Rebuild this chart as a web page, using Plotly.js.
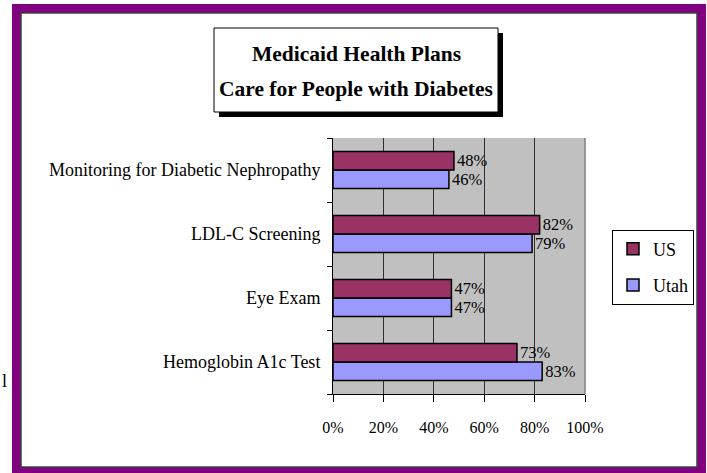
<!DOCTYPE html>
<html>
<head>
<meta charset="utf-8">
<script src="https://cdn.plot.ly/plotly-3.0.1.min.js"></script>
<style>html,body{margin:0;padding:0;background:#fff;}#chart{width:707px;height:473px;}</style>
</head>
<body>
<div id="chart"></div>
<script>
// ---- data ----
const categories = ["Hemoglobin A1c Test", "Eye Exam", "LDL-C Screening", "Monitoring for Diabetic Nephropathy"];
const usValues = [0.73, 0.47, 0.82, 0.48];
const utahValues = [0.83, 0.47, 0.79, 0.46];
const seriesNames = ["US", "Utah"];
const xTickVals = [0, 0.2, 0.4, 0.6, 0.8, 1.0];
const xTickText = ["0%", "20%", "40%", "60%", "80%", "100%"];
const titleLines = ["Medicaid Health Plans", "Care for People with Diabetes"];

// ---- layout geometry (pixels) ----
const W = 707, H = 473;
const M = {l: 333, r: 122, t: 138, b: 79};
const PW = W - M.l - M.r, PH = H - M.t - M.b;
const px = v => (v - M.l) / PW;
const py = v => (H - M.b - v) / PH;
const serif = "Liberation Serif, Times New Roman, serif";

function pct(v) { return Math.round(v * 100) + "%"; }

const traceUtah = {
  type: "bar", orientation: "h", name: seriesNames[1],
  y: categories, x: utahValues,
  text: utahValues.map(pct), textposition: "outside", cliponaxis: false, constraintext: "none",
  textfont: {family: serif, size: 16.5, color: "#000"},
  marker: {color: "#9999FF", line: {color: "#000", width: 1.5}},
  legendgroup: "b", legendrank: 2, hoverinfo: "skip"
};
const traceUS = {
  type: "bar", orientation: "h", name: seriesNames[0],
  y: categories, x: usValues,
  text: usValues.map(pct), textposition: "outside", cliponaxis: false, constraintext: "none",
  textfont: {family: serif, size: 16.5, color: "#000"},
  marker: {color: "#993366", line: {color: "#000", width: 1.5}},
  legendgroup: "a", legendrank: 1, hoverinfo: "skip"
};

const shapes = [
  // purple frame
  {type: "rect", xref: "paper", yref: "paper", layer: "below",
   x0: px(12), x1: px(706), y0: py(4), y1: py(474), fillcolor: "#800080", line: {width: 0}},
  // inner white panel
  {type: "rect", xref: "paper", yref: "paper", layer: "below",
   x0: px(21), x1: px(697), y0: py(13), y1: py(467), fillcolor: "#ffffff", line: {color: "#404040", width: 1.5}},
  // plot area background
  {type: "rect", xref: "paper", yref: "paper", layer: "below",
   x0: 0, x1: 1, y0: 0, y1: 1, fillcolor: "#C0C0C0", line: {width: 0}},
  // title shadow
  {type: "rect", xref: "paper", yref: "paper", layer: "above",
   x0: px(219), x1: px(503), y0: py(33), y1: py(117), fillcolor: "#000", line: {width: 0}},
  // title box
  {type: "rect", xref: "paper", yref: "paper", layer: "above",
   x0: px(214), x1: px(498), y0: py(28), y1: py(112), fillcolor: "#fff", line: {color: "#000", width: 1}},
  // right plot border
  {type: "line", xref: "paper", yref: "paper", layer: "above",
   x0: 1, x1: 1, y0: 0, y1: 1, line: {color: "#808080", width: 1.5}}
];

const annotations = [
  {xref: "paper", yref: "paper", x: px(356), y: py(54), text: "<b>" + titleLines[0] + "</b>",
   showarrow: false, xanchor: "center", yanchor: "middle", font: {family: serif, size: 21.5, color: "#000"}},
  {xref: "paper", yref: "paper", x: px(356), y: py(89), text: "<b>" + titleLines[1] + "</b>",
   showarrow: false, xanchor: "center", yanchor: "middle", font: {family: serif, size: 21.5, color: "#000"}},
  {xref: "paper", yref: "paper", x: px(4), y: py(381), text: "l",
   showarrow: false, xanchor: "center", yanchor: "middle", font: {family: serif, size: 18, color: "#000"}}
];

const layout = {
  width: W, height: H,
  margin: M,
  paper_bgcolor: "#fff",
  plot_bgcolor: "#C0C0C0",
  barmode: "group", bargap: 0.42, bargroupgap: 0,
  showlegend: true,
  legend: {x: px(653), xanchor: "center", y: py(267), yanchor: "middle",
           bgcolor: "#fff", bordercolor: "#000", borderwidth: 1,
           traceorder: "grouped", tracegroupgap: 10,
           font: {family: serif, size: 18, color: "#000"}},
  xaxis: {range: [0, 1], tickvals: xTickVals, ticktext: xTickText,
          showgrid: true, gridcolor: "#303030", gridwidth: 1,
          showline: true, linecolor: "#000", linewidth: 1,
          ticks: "outside", ticklen: 7, tickcolor: "#000",
          ticklabelstandoff: 12, zeroline: false, fixedrange: true,
          tickfont: {family: serif, size: 16, color: "#000"}},
  yaxis: {type: "category", categoryorder: "array", categoryarray: categories,
          showline: true, linecolor: "#000", linewidth: 1,
          ticks: "outside", ticklen: 5, tickcolor: "#000", tickson: "boundaries",
          ticklabelstandoff: 8, showgrid: false, fixedrange: true,
          tickfont: {family: serif, size: 18, color: "#000"}},
  shapes: shapes,
  annotations: annotations
};

Plotly.newPlot("chart", [traceUtah, traceUS], layout, {displayModeBar: false, staticPlot: true});
</script>
</body>
</html>
